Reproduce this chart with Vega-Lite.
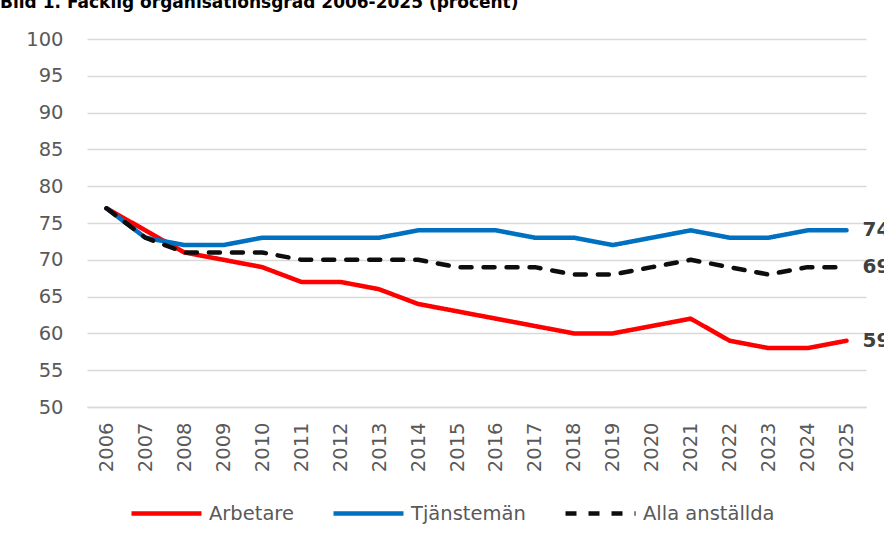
{
  "$schema": "https://vega.github.io/schema/vega-lite/v6.json",
  "width": 779,
  "height": 368,
  "autosize": {"type": "none"},
  "padding": {"left": 87, "top": 39, "right": 18, "bottom": 138},
  "background": "white",
  "title": {
    "text": "Bild 1. Facklig organisationsgrad 2006-2025 (procent)",
    "anchor": "start",
    "frame": "group",
    "offset": 17,
    "dx": -87,
    "font": "DejaVu Sans",
    "fontSize": 17,
    "fontWeight": "bold",
    "color": "#000000"
  },
  "config": {"view": {"stroke": null}, "font": "DejaVu Sans"},
  "data": {
    "values": [
      {"year": 2006, "series": "Arbetare", "value": 77},
      {"year": 2007, "series": "Arbetare", "value": 74},
      {"year": 2008, "series": "Arbetare", "value": 71},
      {"year": 2009, "series": "Arbetare", "value": 70},
      {"year": 2010, "series": "Arbetare", "value": 69},
      {"year": 2011, "series": "Arbetare", "value": 67},
      {"year": 2012, "series": "Arbetare", "value": 67},
      {"year": 2013, "series": "Arbetare", "value": 66},
      {"year": 2014, "series": "Arbetare", "value": 64},
      {"year": 2015, "series": "Arbetare", "value": 63},
      {"year": 2016, "series": "Arbetare", "value": 62},
      {"year": 2017, "series": "Arbetare", "value": 61},
      {"year": 2018, "series": "Arbetare", "value": 60},
      {"year": 2019, "series": "Arbetare", "value": 60},
      {"year": 2020, "series": "Arbetare", "value": 61},
      {"year": 2021, "series": "Arbetare", "value": 62},
      {"year": 2022, "series": "Arbetare", "value": 59},
      {"year": 2023, "series": "Arbetare", "value": 58},
      {"year": 2024, "series": "Arbetare", "value": 58},
      {"year": 2025, "series": "Arbetare", "value": 59},
      {"year": 2006, "series": "Tjänstemän", "value": 77},
      {"year": 2007, "series": "Tjänstemän", "value": 73},
      {"year": 2008, "series": "Tjänstemän", "value": 72},
      {"year": 2009, "series": "Tjänstemän", "value": 72},
      {"year": 2010, "series": "Tjänstemän", "value": 73},
      {"year": 2011, "series": "Tjänstemän", "value": 73},
      {"year": 2012, "series": "Tjänstemän", "value": 73},
      {"year": 2013, "series": "Tjänstemän", "value": 73},
      {"year": 2014, "series": "Tjänstemän", "value": 74},
      {"year": 2015, "series": "Tjänstemän", "value": 74},
      {"year": 2016, "series": "Tjänstemän", "value": 74},
      {"year": 2017, "series": "Tjänstemän", "value": 73},
      {"year": 2018, "series": "Tjänstemän", "value": 73},
      {"year": 2019, "series": "Tjänstemän", "value": 72},
      {"year": 2020, "series": "Tjänstemän", "value": 73},
      {"year": 2021, "series": "Tjänstemän", "value": 74},
      {"year": 2022, "series": "Tjänstemän", "value": 73},
      {"year": 2023, "series": "Tjänstemän", "value": 73},
      {"year": 2024, "series": "Tjänstemän", "value": 74},
      {"year": 2025, "series": "Tjänstemän", "value": 74},
      {"year": 2006, "series": "Alla anställda", "value": 77},
      {"year": 2007, "series": "Alla anställda", "value": 73},
      {"year": 2008, "series": "Alla anställda", "value": 71},
      {"year": 2009, "series": "Alla anställda", "value": 71},
      {"year": 2010, "series": "Alla anställda", "value": 71},
      {"year": 2011, "series": "Alla anställda", "value": 70},
      {"year": 2012, "series": "Alla anställda", "value": 70},
      {"year": 2013, "series": "Alla anställda", "value": 70},
      {"year": 2014, "series": "Alla anställda", "value": 70},
      {"year": 2015, "series": "Alla anställda", "value": 69},
      {"year": 2016, "series": "Alla anställda", "value": 69},
      {"year": 2017, "series": "Alla anställda", "value": 69},
      {"year": 2018, "series": "Alla anställda", "value": 68},
      {"year": 2019, "series": "Alla anställda", "value": 68},
      {"year": 2020, "series": "Alla anställda", "value": 69},
      {"year": 2021, "series": "Alla anställda", "value": 70},
      {"year": 2022, "series": "Alla anställda", "value": 69},
      {"year": 2023, "series": "Alla anställda", "value": 68},
      {"year": 2024, "series": "Alla anställda", "value": 69},
      {"year": 2025, "series": "Alla anställda", "value": 69}
    ]
  },
  "encoding": {
    "x": {
      "field": "year",
      "type": "ordinal",
      "scale": {"type": "point", "padding": 0.5},
      "axis": {
        "title": null,
        "labelAngle": -90,
        "labelFontSize": 19.5,
        "labelColor": "#595959",
        "labelOverlap": false,
        "ticks": false,
        "domain": true,
        "domainColor": "#d9d9d9",
        "domainWidth": 1.5,
        "labelPadding": 15,
        "grid": false
      }
    },
    "y": {
      "field": "value",
      "type": "quantitative",
      "scale": {"domain": [50, 100], "nice": false, "zero": false},
      "axis": {
        "title": null,
        "values": [50, 55, 60, 65, 70, 75, 80, 85, 90, 95, 100],
        "labelOverlap": false,
        "domain": false,
        "ticks": false,
        "grid": true,
        "gridColor": "#d9d9d9",
        "gridWidth": 1.5,
        "labelPadding": 24,
        "labelFontSize": 19.5,
        "labelColor": "#595959"
      }
    }
  },
  "layer": [
    {
      "mark": {"type": "line", "strokeWidth": 4.5, "strokeCap": "round", "strokeJoin": "round"},
      "encoding": {
        "color": {
          "field": "series",
          "type": "nominal",
          "scale": {
            "domain": ["Arbetare", "Tjänstemän", "Alla anställda"],
            "range": ["#ff0000", "#0070c0", "#0d0d0d"]
          },
          "legend": {
            "orient": "none",
            "legendX": 42,
            "legendY": 437,
            "direction": "horizontal",
            "title": null,
            "symbolType": "stroke",
            "symbolSize": 4900,
            "symbolStrokeWidth": 4.5,
            "labelFontSize": 19.5,
            "labelColor": "#595959",
            "labelOffset": 5,
            "columnPadding": 30
          }
        },
        "strokeDash": {
          "field": "series",
          "type": "nominal",
          "scale": {
            "domain": ["Arbetare", "Tjänstemän", "Alla anställda"],
            "range": [[1, 0], [1, 0], [11, 12]]
          },
          "legend": {
            "orient": "none",
            "legendX": 42,
            "legendY": 437,
            "direction": "horizontal",
            "title": null,
            "symbolType": "stroke",
            "symbolSize": 4900,
            "symbolStrokeWidth": 4.5,
            "labelFontSize": 19.5,
            "labelColor": "#595959",
            "labelOffset": 5,
            "columnPadding": 30
          }
        }
      }
    },
    {
      "transform": [{"filter": "datum.year == 2025"}],
      "mark": {"type": "text", "align": "left", "baseline": "middle", "dx": 16, "fontSize": 20, "fontWeight": "bold", "color": "#404040"},
      "encoding": {
        "text": {"field": "value", "type": "quantitative"}
      }
    }
  ]
}
